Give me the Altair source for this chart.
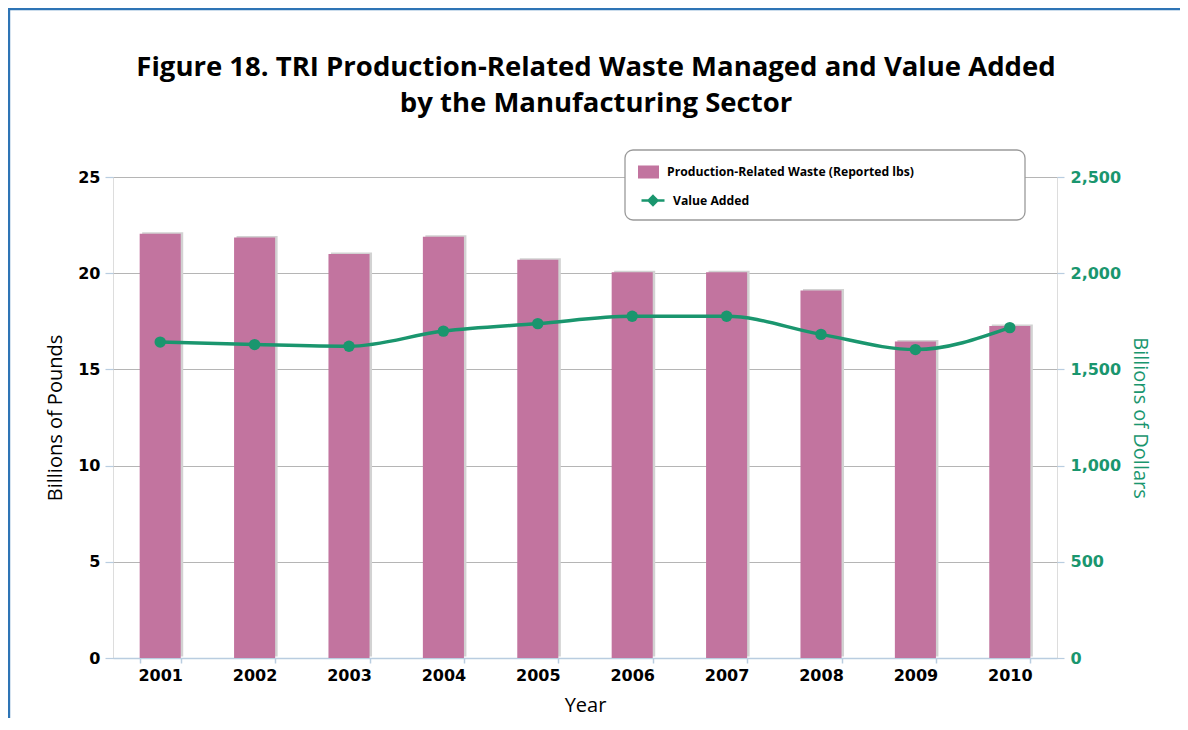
import altair as alt
import pandas as pd

# ---- data ----
years = ["2001", "2002", "2003", "2004", "2005", "2006", "2007", "2008", "2009", "2010"]
waste = [22.05, 21.85, 21.0, 21.9, 20.7, 20.05, 20.05, 19.1, 16.45, 17.25]          # billions of pounds
value_added = [1642, 1629, 1620, 1699, 1738, 1776, 1776, 1682, 1603, 1717]         # billions of dollars
waste_label = "Production-Related Waste (Reported lbs)"
value_label = "Value Added"
left_ticks = [0, 5, 10, 15, 20, 25]
right_ticks = [0, 500, 1000, 1500, 2000, 2500]
title_lines = ["Figure 18. TRI Production-Related Waste Managed and Value Added",
               "by the Manufacturing Sector"]

PINK = "#c2749f"
GREEN = "#1a966e"
GRID = "#b5b5b5"
TICK = "#b9cde0"
BLUE = "#2e74b5"
SHADOW = "#d2d2d2"

df = pd.DataFrame({
    "Year": years,
    "Waste": waste,
    "Value": value_added,
    "WasteSeries": [waste_label] * len(years),
    "ValueSeries": [value_label] * len(years),
})

base = alt.Chart(df)

x_enc = alt.X(
    "Year:N",
    scale=alt.Scale(paddingInner=0.565, paddingOuter=0.2825),
    axis=alt.Axis(
        title="Year", labelAngle=0, domainColor=TICK, domainWidth=1.5,
        tickColor=TICK, tickSize=5, tickWidth=1.5, tickBand="extent",
        labelFont="DejaVu Sans", labelFontWeight="bold", labelFontSize=16,
        labelColor="black", labelPadding=4,
        titleFont="Open Sans", titleFontSize=20, titleFontWeight="normal",
        titleColor="black", titlePadding=12,
    ),
)

left_axis = alt.Axis(
    values=left_ticks, title="Billions of Pounds", orient="left",
    grid=True, gridColor=GRID, gridWidth=1, domain=False,
    tickColor=TICK, tickSize=8, tickWidth=1.2,
    labelFont="DejaVu Sans", labelFontWeight="bold", labelFontSize=16,
    labelColor="black", labelPadding=5,
    titleFont="Open Sans", titleFontSize=20, titleFontWeight="normal",
    titleColor="black", titlePadding=12,
)

right_axis = alt.Axis(
    values=right_ticks, title="Billions of Dollars", orient="right",
    labelExpr="replace(format(datum.value, 'd'), /(\\d)(\\d{3})$/, '$1,$2')",
    grid=False, domain=False, tickColor=TICK, tickSize=7, tickWidth=1.2,
    labelFont="DejaVu Sans", labelFontWeight="bold", labelFontSize=16,
    labelColor=GREEN, labelPadding=6,
    titleFont="Open Sans", titleFontSize=20, titleFontWeight="normal",
    titleColor=GREEN, titlePadding=9,
)

y_left = alt.Y("Waste:Q", scale=alt.Scale(domain=[0, 25], nice=False), axis=left_axis)
y_right = alt.Y("Value:Q", scale=alt.Scale(domain=[0, 2500], nice=False), axis=right_axis)

bar_legend = alt.Legend(
    orient="none", legendX=525, legendY=-15.5, title=None,
    symbolType="M-1,-0.62H1V0.62H-1Z", symbolSize=441, symbolStrokeWidth=0,
    labelFont="Open Sans", labelFontWeight="bold", labelFontSize=12.2,
    labelColor="black", labelOffset=8, labelLimit=400, padding=0,
)
line_legend = alt.Legend(
    orient="none", legendX=527, legendY=10.5, title=None,
    symbolType="M-1,0H1M0,-0.38L0.38,0L0,0.38L-0.38,0Z", symbolSize=529,
    symbolStrokeWidth=2.5, symbolStrokeColor=GREEN, symbolFillColor=GREEN,
    labelFont="Open Sans", labelFontWeight="bold", labelFontSize=12.2,
    labelColor="black", labelOffset=7, labelLimit=400, padding=0,
)

one = alt.Data(values=[{"k": 1}])

border_top = alt.Chart(one).mark_rule(color=BLUE, strokeWidth=2.4).encode(
    x=alt.value(-110), x2=alt.value(1090), y=alt.value(-168))
border_left = alt.Chart(one).mark_rule(color=BLUE, strokeWidth=2.4).encode(
    x=alt.value(-104), y=alt.value(-169), y2=alt.value(700))
legend_box = alt.Chart(one).mark_rect(
    fill="white", stroke="#9a9a9a", strokeWidth=1.3, cornerRadius=8).encode(
    x=alt.value(512), x2=alt.value(912), y=alt.value(-27), y2=alt.value(43))
title_text = alt.Chart(one).mark_text(
    font="Open Sans", fontSize=27.5, fontWeight="bold", color="black",
    align="center", baseline="alphabetic", lineHeight=36).encode(
    x=alt.value(483), y=alt.value(-101), text=alt.value(title_lines))

shadow = base.mark_bar(color=SHADOW, xOffset=2.5, yOffset=-1.5).encode(x=x_enc, y=y_left)
bars = base.mark_bar(opacity=1).encode(
    x=x_enc, y=y_left,
    color=alt.Color("WasteSeries:N", scale=alt.Scale(domain=[waste_label], range=[PINK]),
                    legend=bar_legend),
)
bar_group = alt.layer(shadow, bars)

line = base.mark_line(interpolate="monotone", strokeWidth=3.5).encode(
    x=x_enc, y=y_right,
    color=alt.Color("ValueSeries:N", scale=alt.Scale(domain=[value_label], range=[GREEN]),
                    legend=line_legend),
)
points = base.mark_point(filled=True, size=130, opacity=1).encode(
    x=x_enc, y=y_right,
    color=alt.Color("ValueSeries:N", scale=alt.Scale(domain=[value_label], range=[GREEN]),
                    legend=line_legend),
)
line_group = alt.layer(line, points)

chart = alt.layer(
    bar_group, line_group, legend_box, title_text, border_top, border_left
).resolve_scale(
    y="independent", color="independent"
).properties(
    width=944, height=481,
    autosize=alt.AutoSizeParams(type="none"),
    padding={"left": 105, "top": 169, "right": 123, "bottom": 60},
).configure_view(stroke=None).configure(background="white")

chart.save("out.html", embed_options={"renderer": "svg", "actions": False})
